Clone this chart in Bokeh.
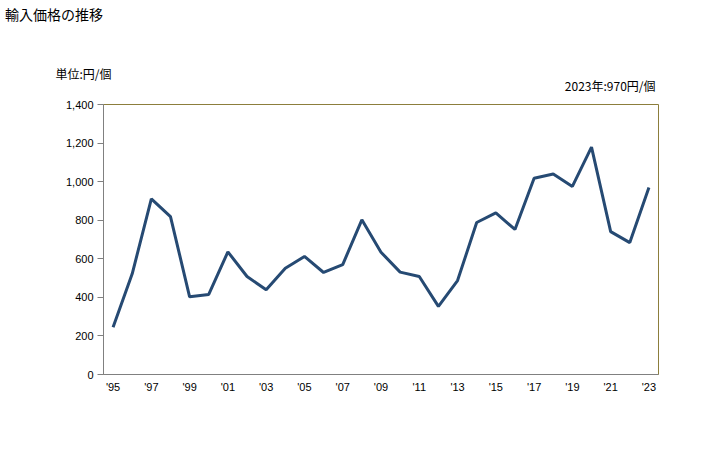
from bokeh.plotting import figure
from bokeh.layouts import column
from bokeh.models import Label, Range1d, FixedTicker, NumeralTickFormatter
from bokeh.embed import file_html
from bokeh.resources import INLINE

years = list(range(1995, 2024))
values = [245, 522, 911, 819, 403, 415, 636, 508, 439, 551, 612, 529, 570, 802, 634,
          531, 508, 353, 487, 788, 838, 752, 1018, 1040, 975, 1179, 741, 684, 970]
y_ticks = [0, 200, 400, 600, 800, 1000, 1200, 1400]
x_ticks = list(range(1995, 2024, 2))
x_labels = {t: "'" + str(t)[2:] for t in x_ticks}
title_text = "輸入価格の推移"
unit_text = "単位:円/個"
latest_text = "2023年:970円/個"

JP = "Noto Sans CJK JP"
TICK = "Liberation Sans"

# header area (titles)
head = figure(width=720, height=96, output_backend="svg", toolbar_location=None,
              x_range=Range1d(0, 720), y_range=Range1d(0, 96),
              x_axis_type=None, y_axis_type=None,
              min_border_left=0, min_border_right=0, min_border_top=0, min_border_bottom=0)
head.title = None
head.xgrid.visible = False
head.ygrid.visible = False
head.outline_line_color = None
head.add_layout(Label(x=4.5, y=83, x_units="screen", y_units="screen", text=title_text,
                      text_font=JP, text_font_size="14px", text_baseline="alphabetic",
                      text_align="left", text_color="#000000"))
head.add_layout(Label(x=55, y=23.5, x_units="screen", y_units="screen", text=unit_text,
                      text_font=JP, text_font_size="12px", text_baseline="alphabetic",
                      text_align="left", text_color="#000000"))
head.add_layout(Label(x=655, y=11, x_units="screen", y_units="screen", text=latest_text,
                      text_font=JP, text_font_size="12px", text_baseline="alphabetic",
                      text_align="right", text_color="#000000"))

# chart
p = figure(width=720, height=346, output_backend="svg", toolbar_location=None,
           x_range=Range1d(1994.5, 2023.5), y_range=Range1d(0, 1400),
           min_border_left=103, min_border_right=62, min_border_top=8, min_border_bottom=68)
p.title = None
p.line(years, values, line_color="#264a73", line_width=3)

for fig in (head, p):
    if "frame_align" in fig.properties():
        fig.frame_align = False

p.xgrid.visible = False
p.ygrid.visible = False
p.outline_line_color = "#8c7e3c"
p.outline_line_width = 1

p.yaxis.ticker = FixedTicker(ticks=y_ticks)
p.yaxis.formatter = NumeralTickFormatter(format="0,0")
p.yaxis.major_tick_out = 6
p.yaxis.major_tick_in = 0
p.yaxis.minor_tick_out = 0
p.yaxis.minor_tick_in = 0
p.yaxis.axis_line_color = "#808080"
p.yaxis.major_tick_line_color = "#808080"
p.yaxis.major_label_text_font = TICK
p.yaxis.major_label_text_font_size = "11px"
p.yaxis.major_label_text_color = "#000000"
p.yaxis.major_label_standoff = 4

p.xaxis.ticker = FixedTicker(ticks=x_ticks)
p.xaxis.major_label_overrides = x_labels
p.xaxis.major_tick_out = 0
p.xaxis.major_tick_in = 0
p.xaxis.minor_tick_out = 0
p.xaxis.minor_tick_in = 0
p.xaxis.axis_line_color = "#808080"
p.xaxis.major_label_text_font = TICK
p.xaxis.major_label_text_font_size = "11px"
p.xaxis.major_label_text_color = "#000000"
p.xaxis.major_label_standoff = 6

layout = column(head, p, spacing=0)
open("out.html", "w").write(file_html(layout, INLINE))
